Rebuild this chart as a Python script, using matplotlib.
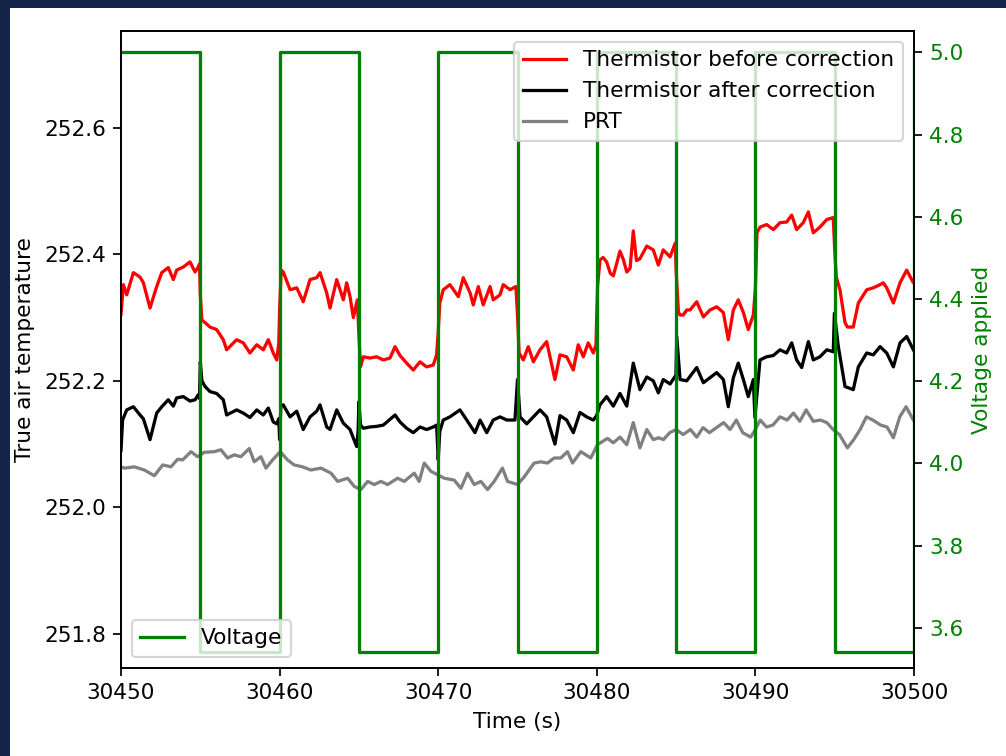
import matplotlib
matplotlib.use('Agg')
import matplotlib.pyplot as plt
from matplotlib.patches import Rectangle
import numpy as np

t0 = 30450

# Thermistor before correction (time offset from t0 in s, temperature)
red_t = [0.0, 0.15, 0.36, 0.78, 1.2, 1.41, 1.83, 2.25, 2.57, 2.98, 3.30, 3.51, 3.93, 4.35, 4.67, 4.87, 4.95,
         5.0, 5.1, 5.30, 5.61, 6.03, 6.45, 6.66, 7.29, 7.71, 8.13, 8.56, 8.97, 9.29, 9.60, 9.82, 9.95,
         10.0, 10.1, 10.23, 10.66, 11.08, 11.49, 11.92, 12.34, 12.55, 12.97, 13.18, 13.60, 14.02, 14.23, 14.44, 14.65, 14.90,
         15.0, 15.1, 15.28, 15.70, 16.12, 16.54, 16.96, 17.28, 17.59, 18.01, 18.43, 18.85, 19.27, 19.69, 19.90,
         20.0, 20.1, 20.32, 20.74, 21.27, 21.58, 22.01, 22.21, 22.53, 22.84, 23.27, 23.47, 23.90, 24.10, 24.53, 24.90,
         25.0, 25.1, 25.37, 25.68, 26.00, 26.42, 26.84, 27.05, 27.36, 27.68, 28.10, 28.52, 28.83, 29.15, 29.46, 29.78, 29.95,
         30.0, 30.05, 30.2, 30.4, 30.62, 30.85, 31.04, 31.25, 31.46, 31.67, 31.89, 32.1, 32.30, 32.5, 32.72, 33.15, 33.56, 33.88, 34.19, 34.62, 34.95,
         35.0, 35.15, 35.25, 35.45, 35.67, 35.88, 36.30, 36.72, 37.14, 37.56, 37.98, 38.29, 38.61, 38.92, 39.24, 39.55, 39.87,
         40.0, 40.1, 40.29, 40.71, 41.13, 41.55, 41.97, 42.29, 42.60, 43.02, 43.34, 43.65, 44.07, 44.50, 44.91,
         45.0, 45.1, 45.33, 45.65, 45.8, 46.17, 46.49, 47.02, 47.43, 47.86, 48.06, 48.28, 48.70, 49.12, 49.54, 49.96, 50.0]
red_T = [252.305, 252.352, 252.336, 252.371, 252.364, 252.355, 252.315, 252.349, 252.371, 252.379, 252.360, 252.375, 252.380, 252.388, 252.372, 252.380, 252.385,
         252.336, 252.296, 252.292, 252.285, 252.281, 252.265, 252.249, 252.265, 252.260, 252.244, 252.257, 252.249, 252.265, 252.244, 252.233, 252.260,
         252.312, 252.375, 252.372, 252.344, 252.347, 252.325, 252.360, 252.363, 252.371, 252.339, 252.315, 252.360, 252.328, 252.355, 252.333, 252.300, 252.328,
         252.273, 252.222, 252.238, 252.236, 252.238, 252.233, 252.236, 252.254, 252.240, 252.228, 252.217, 252.230, 252.222, 252.225, 252.241,
         252.277, 252.323, 252.344, 252.352, 252.333, 252.363, 252.339, 252.320, 252.349, 252.320, 252.349, 252.328, 252.336, 252.352, 252.344, 252.349,
         252.304, 252.244, 252.233, 252.254, 252.230, 252.249, 252.262, 252.238, 252.202, 252.241, 252.238, 252.217, 252.257, 252.238, 252.260, 252.244, 252.257,
         252.308, 252.350, 252.391, 252.395, 252.388, 252.370, 252.366, 252.385, 252.405, 252.392, 252.372, 252.378, 252.437, 252.390, 252.393, 252.413, 252.407, 252.383, 252.407, 252.396, 252.418,
         252.375, 252.308, 252.304, 252.304, 252.312, 252.312, 252.325, 252.301, 252.312, 252.317, 252.308, 252.265, 252.312, 252.328, 252.308, 252.281, 252.304,
         252.347, 252.434, 252.443, 252.447, 252.439, 252.450, 252.451, 252.462, 252.439, 252.450, 252.467, 252.434, 252.443, 252.455, 252.458,
         252.407, 252.364, 252.344, 252.292, 252.285, 252.285, 252.323, 252.344, 252.347, 252.352, 252.355, 252.347, 252.323, 252.355, 252.375, 252.355, 252.355]

# Thermistor after correction
blk_t = [0.0, 0.1, 0.36, 0.78, 1.2, 1.41, 1.83, 2.25, 2.57, 2.98, 3.30, 3.51, 3.93, 4.35, 4.67, 4.87, 4.95,
         5.0, 5.1, 5.30, 5.61, 6.03, 6.45, 6.66, 7.29, 7.71, 8.13, 8.56, 8.97, 9.29, 9.60, 9.82, 9.95,
         10.0, 10.08, 10.23, 10.66, 11.08, 11.49, 11.92, 12.34, 12.55, 12.97, 13.18, 13.60, 14.02, 14.44, 14.86, 14.95,
         15.0, 15.1, 15.28, 15.70, 16.12, 16.54, 17.28, 17.59, 18.01, 18.43, 18.85, 19.27, 19.69, 19.90,
         20.0, 20.1, 20.32, 20.74, 21.37, 21.80, 22.32, 22.64, 23.06, 23.47, 23.90, 24.32, 24.84,
         25.0, 25.16, 25.58, 26.00, 26.42, 26.84, 27.36, 27.68, 28.10, 28.52, 28.94, 29.36, 29.78, 29.99,
         30.2, 30.62, 31.04, 31.46, 31.89, 32.30, 32.72, 33.15, 33.56, 33.88, 34.19, 34.62, 34.99,
         35.04, 35.25, 35.67, 36.30, 36.72, 37.14, 37.56, 37.98, 38.29, 38.61, 38.92, 39.24, 39.55, 39.87,
         39.97, 40.29, 40.71, 41.13, 41.55, 41.97, 42.29, 42.60, 42.92, 43.34, 43.65, 44.07, 44.50, 44.91,
         44.98, 45.23, 45.65, 46.17, 46.49, 47.02, 47.43, 47.86, 48.28, 48.70, 49.12, 49.54, 49.96]
blk_T = [252.090, 252.138, 252.154, 252.159, 252.146, 252.140, 252.107, 252.149, 252.159, 252.170, 252.160, 252.173, 252.175, 252.168, 252.170, 252.178, 252.172,
         252.230, 252.200, 252.191, 252.183, 252.180, 252.170, 252.146, 252.154, 252.149, 252.142, 252.154, 252.146, 252.157, 252.135, 252.132, 252.140,
         252.107, 252.160, 252.162, 252.143, 252.152, 252.123, 252.143, 252.152, 252.162, 252.127, 252.123, 252.154, 252.133, 252.123, 252.096, 252.120,
         252.167, 252.130, 252.125, 252.127, 252.128, 252.130, 252.146, 252.135, 252.125, 252.118, 252.127, 252.123, 252.127, 252.130,
         252.075, 252.120, 252.138, 252.143, 252.154, 252.138, 252.118, 252.138, 252.118, 252.138, 252.143, 252.138, 252.138,
         252.202, 252.143, 252.132, 252.143, 252.154, 252.143, 252.100, 252.145, 252.138, 252.118, 252.150, 252.143, 252.138, 252.145,
         252.162, 252.175, 252.160, 252.180, 252.160, 252.228, 252.186, 252.206, 252.200, 252.181, 252.202, 252.195, 252.209,
         252.270, 252.202, 252.200, 252.221, 252.197, 252.205, 252.213, 252.202, 252.159, 252.205, 252.228, 252.202, 252.175, 252.202,
         252.142, 252.233, 252.238, 252.240, 252.249, 252.244, 252.260, 252.233, 252.221, 252.262, 252.233, 252.238, 252.249, 252.246,
         252.307, 252.254, 252.191, 252.186, 252.222, 252.244, 252.241, 252.254, 252.244, 252.222, 252.260, 252.270, 252.249]

# PRT
prt_t = [0.0, 0.21, 0.84, 1.47, 2.10, 2.63, 3.15, 3.57, 3.89, 4.41, 4.83, 5.25, 5.88, 6.30, 6.72, 7.14, 7.56, 8.09, 8.40, 8.82,
         9.14, 9.56, 10.04, 10.50, 10.92, 11.45, 11.97, 12.61, 13.24, 13.66, 14.29, 14.71, 15.13, 15.55, 15.97, 16.39, 16.81,
         17.44, 17.86, 18.49, 18.80, 19.12, 19.54, 20.0, 20.38, 21.01, 21.43, 21.85, 22.27, 22.69, 23.11, 23.53, 24.05, 24.37,
         25.0, 25.42, 26.05, 26.47, 26.89, 27.31, 27.73, 28.15, 28.47, 28.99, 29.62, 30.04, 30.67,
         31.04, 31.46, 31.89, 32.30, 32.72, 33.15, 33.56, 33.9, 34.2, 34.6, 35.0, 35.45, 35.9, 36.3, 36.7, 37.1, 37.6, 38.0,
         38.4, 38.8, 39.2, 39.7, 40.0, 40.3, 40.7, 41.1, 41.55, 42.0, 42.4, 42.8, 43.2, 43.65, 44.1, 44.5, 44.9, 45.3, 45.8,
         46.2, 46.6, 47.0, 47.4, 47.9, 48.3, 48.7, 49.1, 49.5, 49.96]
prt_T = [252.064, 252.062, 252.064, 252.059, 252.050, 252.067, 252.064, 252.076, 252.075, 252.088, 252.080, 252.087, 252.088, 252.091, 252.078, 252.083, 252.080, 252.093, 252.072, 252.080,
         252.062, 252.075, 252.088, 252.075, 252.067, 252.064, 252.059, 252.062, 252.054, 252.041, 252.046, 252.033, 252.028, 252.041, 252.036, 252.041, 252.036,
         252.046, 252.041, 252.054, 252.041, 252.070, 252.057, 252.051, 252.046, 252.043, 252.030, 252.054, 252.036, 252.041, 252.028, 252.041, 252.062, 252.041,
         252.036, 252.048, 252.070, 252.072, 252.070, 252.078, 252.078, 252.088, 252.070, 252.088, 252.078, 252.099, 252.109,
         252.102, 252.111, 252.099, 252.134, 252.094, 252.123, 252.107, 252.110, 252.107, 252.118, 252.123, 252.115, 252.123, 252.111, 252.126, 252.118, 252.127, 252.134,
         252.123, 252.138, 252.118, 252.111, 252.123, 252.138, 252.127, 252.130, 252.143, 252.138, 252.149, 252.136, 252.154, 252.136, 252.138, 252.134, 252.123, 252.115, 252.094,
         252.107, 252.123, 252.143, 252.138, 252.130, 252.127, 252.110, 252.143, 252.159, 252.138]

# applied voltage, switched every 5 s
volt_t = [0, 5, 10, 15, 20, 25, 30, 35, 40, 45, 50, 55]
volt_V = [5.0, 3.54, 5.0, 3.54, 5.0, 3.54, 5.0, 3.54, 5.0, 3.54, 5.0, 5.0]

DPI = 156
fig = plt.figure(figsize=(1006 / DPI, 756 / DPI), dpi=DPI, facecolor='#15254a')
fig.patches.append(Rectangle((10 / 1006, 0), 1, 1 - 8 / 756, transform=fig.transFigure,
                             facecolor='white', edgecolor='none', zorder=-10))

ax = fig.add_axes([121 / 1006, 1 - 668 / 756, 793 / 1006, 637 / 756])
l1, = ax.plot(t0 + np.array(red_t), red_T, color='red', label='Thermistor before correction')
l2, = ax.plot(t0 + np.array(blk_t), blk_T, color='black', label='Thermistor after correction')
l3, = ax.plot(t0 + np.array(prt_t), prt_T, color='grey', label='PRT')
ax.set_xlim(30450, 30500)
ax.set_ylim(251.746, 252.753)
ax.set_yticks([251.8, 252.0, 252.2, 252.4, 252.6])
ax.set_xlabel('Time (s)')
ax.set_ylabel('True air temperature')

ax2 = ax.twinx()
lv, = ax2.plot(t0 + np.array(volt_t), volt_V, color='green', drawstyle='steps-post', label='Voltage')
ax2.set_ylim(3.502, 5.052)
ax2.set_yticks([3.6, 3.8, 4.0, 4.2, 4.4, 4.6, 4.8, 5.0])
ax2.set_ylabel('Voltage applied', color='green')
ax2.tick_params(axis='y', labelcolor='green')
ax2.set_xlim(30450, 30500)

leg1 = ax2.legend(handles=[l1, l2, l3], loc='upper right')
ax2.add_artist(leg1)
ax2.legend(handles=[lv], loc='lower left')

plt.savefig('out.png', dpi=DPI, facecolor=fig.get_facecolor())
